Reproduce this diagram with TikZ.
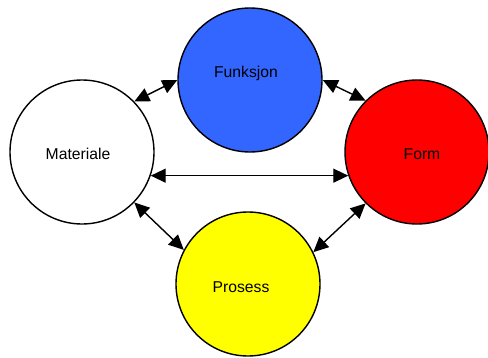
\documentclass[tikz,border=0pt]{standalone}
\usepackage{fontspec}
\setmainfont{Liberation Sans}
\usetikzlibrary{arrows.meta}
\definecolor{funkblue}{HTML}{3366FF}
\definecolor{formred}{HTML}{FF0000}
\definecolor{prosyellow}{HTML}{FFFF00}
\begin{document}
\begin{tikzpicture}[x=1pt,y=-1pt,
  ring/.style={circle,draw=black,line width=1.4pt,minimum size=144pt,inner sep=0pt},
  caption/.style={font=\fontsize{15.7}{18}\selectfont,inner sep=0pt},
  link/.style={line width=1.4pt,{Triangle[length=15pt,width=14pt]}-{Triangle[length=15pt,width=14pt]}}]
  \useasboundingbox (0,0) rectangle (488,357);
  % the four circles
  \node[ring,fill=funkblue]   (fun) at (250,80)  {};
  \node[ring,fill=white]      (mat) at (82,152)  {};
  \node[ring,fill=formred]    (frm) at (417,152) {};
  \node[ring,fill=prosyellow] (pro) at (248,284) {};
  % labels
  \node[caption] (funtxt) at (246,73)  {Funksjon};
  \node[caption] (mattxt) at (78,154)  {Materiale};
  \node[caption] (frmtxt) at (422,154) {Form};
  \node[caption] (protxt) at (241,287) {Prosess};
  % double-headed connectors
  \draw[link] (mat.44)  -- (fun.180);
  \draw[link] (fun.0)   -- (frm.135);
  \draw[link] (mat.-19) -- (frm.199);
  \draw[link] (mat.-44) -- (pro.152);
  \draw[link] (frm.225) -- (pro.26);
\end{tikzpicture}
\end{document}
